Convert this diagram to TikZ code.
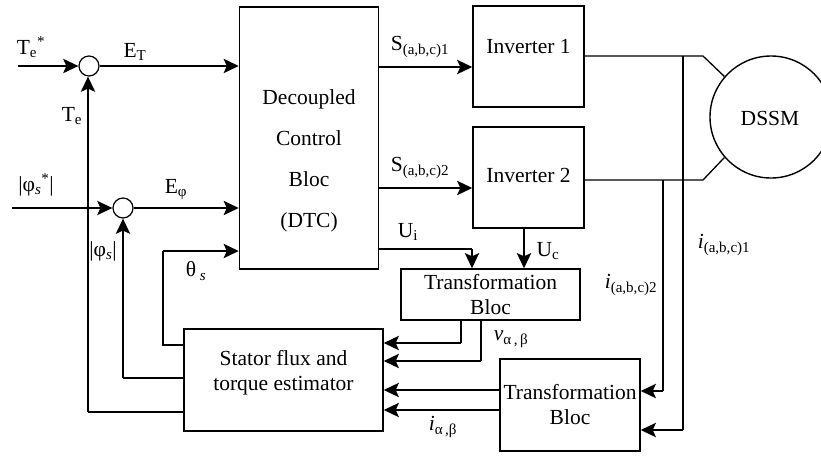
\documentclass[tikz,border=0pt]{standalone}
\usepackage{fontspec}
\setmainfont{Liberation Serif}
\newfontfamily\tnr{Liberation Serif}
\usetikzlibrary{arrows.meta}

\tikzset{blk/.style = {draw, line width=1.4pt, inner sep=0}}
\tikzset{sumnode/.style = {draw, circle, line width=1.2pt, minimum size=20, inner sep=0}}
\tikzset{sig/.style = {line width=2.8pt, -{Stealth[length=15pt,width=14pt,inset=3pt]}}}
\tikzset{wire/.style = {line width=1.3pt}}
\tikzset{lbl/.style = {inner sep=0, font=\tnr\fontsize{21.5}{25}\selectfont}}

\begin{document}
\begin{tikzpicture}[x=1pt, y=-1pt]
      \useasboundingbox (0, 0) rectangle (821, 455);

      % blocks
      \node [blk, minimum width=139, minimum height=262] (dtc) at (309, 138) {};
      \node [blk, minimum width=111, minimum height=101] (inva) at (528.5, 56.5) {};
      \node [blk, minimum width=111, minimum height=101] (invb) at (528.5, 177.5) {};
      \node [blk, minimum width=179, minimum height=51] (trfa) at (490.5, 294.5) {};
      \node [blk, minimum width=140, minimum height=92] (trfb) at (570, 405) {};
      \node [blk, minimum width=199, minimum height=102] (est) at (283.5, 380) {};
      \node [blk, circle, minimum size=122] (dssm) at (771, 117) {};
      \node [sumnode] (sumt) at (89, 66) {};
      \node [sumnode] (sumf) at (123, 208) {};

      % texts in the blocks
      \node [lbl, align=center, font=\tnr\fontsize{21.5}{41}\selectfont] (dtctext) at (309, 161)
            {Decoupled\\Control\\Bloc\\(DTC)};
      \node [lbl] (invatext) at (528.5, 47) {Inverter 1};
      \node [lbl] (invbtext) at (528.5, 175) {Inverter 2};
      \node [lbl, align=center] (trfatext) at (490.5, 294.5) {Transformation\\Bloc};
      \node [lbl, align=center] (trfbtext) at (570, 405) {Transformation\\Bloc};
      \node [lbl, align=center] (esttext) at (283.5, 373) {Stator flux and\\torque estimator};
      \node [lbl] (dssmtext) at (770, 118) {DSSM};

      % references and errors
      \coordinate (tin) at (18, 66);
      \coordinate (fin) at (12, 208);
      \draw [sig] (tin) -- (sumt.west);
      \draw [sig] (sumt.east) -- (sumt.east -| dtc.west);
      \draw [sig] (fin) -- (sumf.west);
      \draw [sig] (sumf.east) -- (sumf.east -| dtc.west);

      % switching states
      \draw [sig] (dtc.east |- 0, 67) -- (inva.west |- 0, 67);
      \draw [sig] (dtc.east |- 0, 188) -- (invb.west |- 0, 188);

      % voltages to the upper transformation
      \coordinate (ui) at (472, 249);
      \draw [wire] (dtc.east |- ui) -- (ui);
      \draw [sig] (ui) -- (ui |- trfa.north);
      \draw [sig] (invb.south -| 524, 0) -- (trfa.north -| 524, 0);

      % inverter outputs to the machine
      \coordinate (pa) at (703, 56);
      \coordinate (pb) at (703, 180);
      \draw [wire] (inva.east |- pa) -- (pa) -- (dssm.139);
      \draw [wire] (invb.east |- pb) -- (pb) -- (dssm.221);

      % measured currents
      \coordinate (ia) at (683, 430);
      \coordinate (ib) at (663, 391);
      \draw [wire] (ia |- pa) -- (ia);
      \draw [sig] (ia) -- (trfb.east |- ia);
      \draw [wire] (ib |- pb) -- (ib);
      \draw [sig] (ib) -- (trfb.east |- ib);

      % inputs of the estimator
      \coordinate (va) at (461, 343);
      \coordinate (vb) at (481, 361);
      \draw [wire] (va |- trfa.south) -- (va);
      \draw [sig] (va) -- (est.east |- va);
      \draw [wire] (vb |- trfa.south) -- (vb);
      \draw [sig] (vb) -- (est.east |- vb);
      \draw [sig] (trfb.west |- 0, 390) -- (est.east |- 0, 390);
      \draw [sig] (trfb.west |- 0, 410) -- (est.east |- 0, 410);

      % feedback from the estimator
      \coordinate (th) at (163, 345);
      \coordinate (fb) at (123, 378);
      \coordinate (te) at (88, 412);
      \draw [wire] (est.west |- th) -- (th) -- (th |- 0, 251);
      \draw [sig] (th |- 0, 251) -- (dtc.west |- 0, 251);
      \draw [wire] (est.west |- fb) -- (fb);
      \draw [sig] (fb) -- (sumf.south);
      \draw [wire] (est.west |- te) -- (te);
      \draw [sig] (te) -- (te |- sumt.south);

      % signal names
      \node [lbl] (ltref) at (31, 47) {T\textsubscript{e}\textsuperscript{*}};
      \node [lbl] (let) at (135, 52) {E\textsubscript{T}};
      \node [lbl] (lte) at (72, 116) {T\textsubscript{e}};
      \node [lbl] (lfref) at (36, 185) {|φ\textsubscript{\textit{s}}\textsuperscript{*}|};
      \node [lbl] (lef) at (176, 190) {E\textsubscript{φ}};
      \node [lbl] (lfs) at (103, 251) {|φ\textsubscript{\textit{s}}|};
      \node [lbl] (lth) at (196, 271) {θ\,\textsubscript{\textit{s}}};
      \node [lbl] (lsa) at (420, 47) {S\textsubscript{(a,b,c)1}};
      \node [lbl] (lsb) at (420, 168) {S\textsubscript{(a,b,c)2}};
      \node [lbl] (lui) at (408, 232) {U\textsubscript{i}};
      \node [lbl] (luc) at (548, 251) {U\textsubscript{c}};
      \node [lbl] (lia) at (724, 245) {\textit{i}\textsubscript{(a,b,c)1}};
      \node [lbl] (lib) at (631, 285) {\textit{i}\textsubscript{(a,b,c)2}};
      \node [lbl] (lv) at (511, 339) {\textit{v}\textsubscript{α\,,\,β}};
      \node [lbl] (li) at (443, 427) {\textit{i}\textsubscript{α\,,β}};
    \end{tikzpicture}
\end{document}
